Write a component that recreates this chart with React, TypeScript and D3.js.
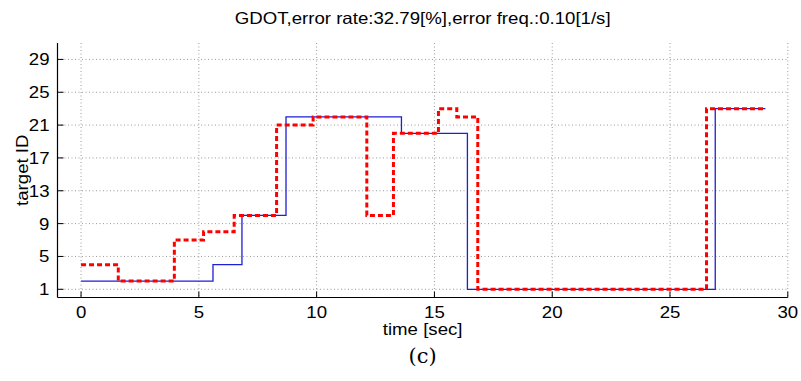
import React from "react";
import * as d3 from "d3";

const W = 801;
const H = 381;

const titleText = "GDOT,error rate:32.79[%],error freq.:0.10[1/s]";
const xTicks = [0, 5, 10, 15, 20, 25, 30];
const yTicks = [1, 5, 9, 13, 17, 21, 25, 29];

// ground truth (blue, solid): step change times and values
const truthTimes = [0, 5.6, 6.83, 8.7, 13.6, 16.4, 26.92, 29.05];
const truthIds = [2, 4, 10, 22, 20, 1, 23, 23];

// estimated (red, dashed)
const estTimes = [0, 1.58, 3.96, 5.2, 6.5, 8.3, 9.85, 12.13, 13.26, 15.17, 15.95, 16.84, 26.55, 29.05];
const estIds = [4, 2, 7, 8, 10, 21, 22, 10, 20, 23, 22, 1, 23, 23];

const x = d3.scaleLinear().domain([-1, 30]).range([57.5, 787.8]);
const y = d3.scaleLinear().domain([0, 31]).range([297.5, 43]);

const stepLine = d3
  .line<[number, number]>()
  .x((d) => x(d[0]))
  .y((d) => y(d[1]))
  .curve(d3.curveStepAfter);

function pts(t: number[], v: number[]): [number, number][] {
  return t.map((tt, i) => [tt, v[i]] as [number, number]);
}

const SX = 1.13;

function SText(props: { x: number; y: number; size: number; anchor: string; rotate?: boolean; children: React.ReactNode }) {
  const sans = "'Liberation Sans', Arial, Helvetica, sans-serif";
  const tr = props.rotate
    ? `translate(${props.x},${props.y}) rotate(-90) scale(${SX},1)`
    : `translate(${props.x},${props.y}) scale(${SX},1)`;
  return (
    <text transform={tr} textAnchor={props.anchor} fontFamily={sans} fontSize={props.size} fill="#000">
      {props.children}
    </text>
  );
}

export default function App() {
  const x0 = x.range()[0];
  const x1 = x.range()[1];
  const y0 = y.range()[0];
  const y1 = y.range()[1];
  return (
    <svg width={W} height={H} style={{ display: "block", position: "absolute", left: 0, top: 0 }}>
      <rect width={W} height={H} fill="#fff" />
      {/* grid */}
      {xTicks.map((t) => (
        <line key={"gx" + t} x1={x(t)} x2={x(t)} y1={y1} y2={y0} stroke="#9a9a9a" strokeWidth={1} strokeDasharray="1,2.5" />
      ))}
      {yTicks.map((t) => (
        <line key={"gy" + t} x1={x0} x2={x1} y1={y(t)} y2={y(t)} stroke="#9a9a9a" strokeWidth={1} strokeDasharray="1,2.5" />
      ))}
      {/* data */}
      <path d={stepLine(pts(truthTimes, truthIds)) || ""} fill="none" stroke="#1f1fd6" strokeWidth={1.3} />
      <path d={stepLine(pts(estTimes, estIds)) || ""} fill="none" stroke="#ff0000" strokeWidth={3} strokeDasharray="5,3" />
      {/* axes */}
      <line x1={x0} x2={x0} y1={y1} y2={y0} stroke="#000" strokeWidth={1.2} />
      <line x1={x0} x2={x1} y1={y0} y2={y0} stroke="#000" strokeWidth={1.2} />
      {xTicks.map((t) => (
        <g key={"tx" + t}>
          <line x1={x(t)} x2={x(t)} y1={y0} y2={y0 - 6} stroke="#000" strokeWidth={1} />
          <SText x={x(t)} y={y0 + 20.5} size={16.5} anchor="middle">
            {t}
          </SText>
        </g>
      ))}
      {yTicks.map((t) => (
        <g key={"ty" + t}>
          <line x1={x0} x2={x0 + 6} y1={y(t)} y2={y(t)} stroke="#000" strokeWidth={1} />
          <SText x={x0 - 8} y={y(t) + 6} size={16.5} anchor="end">
            {t}
          </SText>
        </g>
      ))}
      <SText x={(x0 + x1) / 2} y={24} size={16.5} anchor="middle">
        {titleText}
      </SText>
      <SText x={(x0 + x1) / 2} y={335} size={16.5} anchor="middle">
        time [sec]
      </SText>
      <SText x={28} y={(y0 + y1) / 2} size={16.5} anchor="middle" rotate>
        target ID
      </SText>
      <text x={(x0 + x1) / 2} y={363} textAnchor="middle" fontFamily="'DejaVu Serif', 'Liberation Serif', serif" fontSize={21} fill="#000">
        (c)
      </text>
    </svg>
  );
}
